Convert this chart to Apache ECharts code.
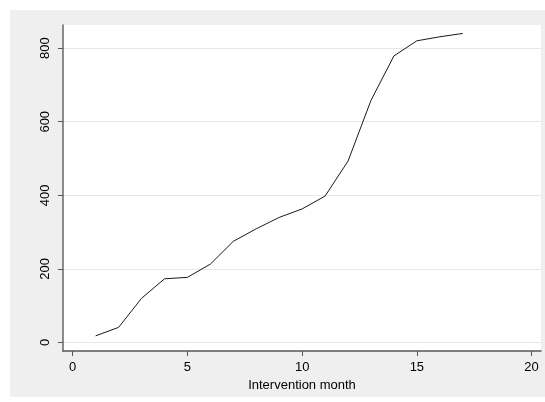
<!DOCTYPE html>
<html>
<head>
<meta charset="utf-8">
<script src="https://cdn.jsdelivr.net/npm/echarts@6/dist/echarts.min.js"></script>
<style>
html,body{margin:0;padding:0;background:#ffffff;}
#wrap{position:absolute;left:10px;top:10px;width:535px;height:387px;background:#efefef;}
#chart{width:535px;height:387px;}
</style>
</head>
<body>
<div id="wrap"><div id="chart"></div></div>
<script>
const months = [1,2,3,4,5,6,7,8,9,10,11,12,13,14,15,16,17];
const values = [18,41,120,173,177,213,275,309,340,363,398,493,658,779,820,831,840];
const xTicks = [0,5,10,15,20];
const yTicks = [0,200,400,600,800];
const xTitle = 'Intervention month';

const chart = echarts.init(document.getElementById('chart'), null, {renderer:'canvas'});
const font = 'Liberation Sans, Arial, sans-serif';
chart.setOption({
  animation:false,
  backgroundColor:'transparent',
  grid:{left:53, top:15, right:4, bottom:44, show:true, backgroundColor:'#ffffff', borderWidth:0},
  xAxis:{
    type:'value', min:-0.423, max:20.41,
    name:xTitle, nameLocation:'middle', nameGap:22,
    nameTextStyle:{color:'#000', fontSize:13, fontFamily:font},
    axisLine:{show:true, onZero:false, lineStyle:{color:'#555', width:1.5}},
    axisTick:{show:true, length:5, customValues:xTicks, lineStyle:{color:'#555', width:1}},
    axisLabel:{customValues:xTicks, margin:10, color:'#000', fontSize:13, fontFamily:font},
    splitLine:{show:false}
  },
  yAxis:{
    type:'value', min:-23.5, max:863,
    axisLine:{show:true, onZero:false, lineStyle:{color:'#666', width:1.5}},
    axisTick:{show:true, length:5, customValues:yTicks, lineStyle:{color:'#555', width:1}},
    axisLabel:{customValues:yTicks, rotate:90, margin:11, color:'#000', fontSize:13, fontFamily:font},
    splitLine:{show:true, lineStyle:{color:'#e8e8e8', width:1}}
  },
  series:[{
    type:'line',
    data:months.map((m,i)=>[m, values[i]]),
    showSymbol:false,
    lineStyle:{color:'#1a1a1a', width:1},
    itemStyle:{color:'#1a1a1a'}
  }]
});
</script>
</body>
</html>
